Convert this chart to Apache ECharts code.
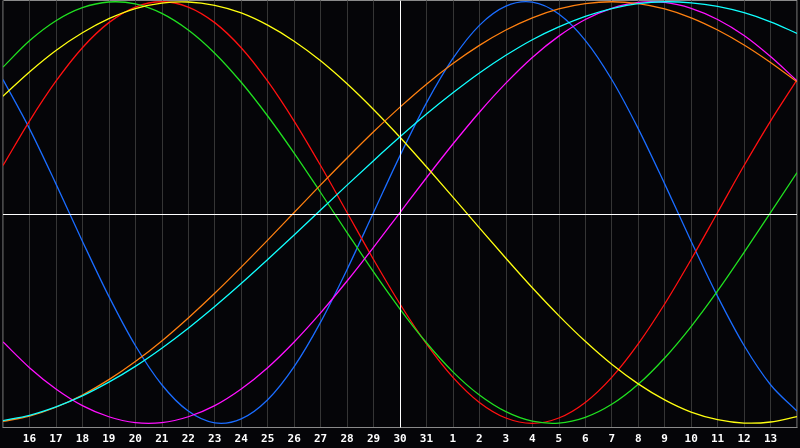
<!DOCTYPE html>
<html>
<head>
<meta charset="utf-8">
<script src="https://cdn.jsdelivr.net/npm/echarts@6/dist/echarts.min.js"></script>
<style>
html,body{margin:0;padding:0;background:#050508;}
#c{width:800px;height:448px;}
</style>
</head>
<body>
<div id="c"></div>
<script>
// Day labels (Oct 15 .. Nov 14)
const days = ['15','16','17','18','19','20','21','22','23','24','25','26','27','28','29','30','31',
  '1','2','3','4','5','6','7','8','9','10','11','12','13','14'];

// Curve values, one per day
const blueVals = [0.631,0.398,0.136,-0.136,-0.398,-0.631,-0.817,-0.942,-0.998,-0.979,-0.888,-0.731,-0.520,-0.270,0,0.270,0.520,0.731,0.888,0.979,0.998,0.942,0.817,0.631,0.398,0.136,-0.136,-0.398,-0.631,-0.817,-0.942];
const redVals = [0.223,0.434,0.623,0.782,0.901,0.975,1,0.975,0.901,0.782,0.623,0.434,0.223,0,-0.223,-0.434,-0.623,-0.782,-0.901,-0.975,-1,-0.975,-0.901,-0.782,-0.623,-0.434,-0.223,0,0.223,0.434,0.630];
const greenVals = [0.690,0.815,0.910,0.972,0.999,0.990,0.945,0.866,0.756,0.618,0.458,0.282,0.095,-0.095,-0.282,-0.458,-0.618,-0.756,-0.866,-0.945,-0.990,-0.999,-0.972,-0.910,-0.815,-0.690,-0.541,-0.372,-0.189,0,0.189];
const magentaVals = [-0.614,-0.736,-0.837,-0.916,-0.969,-0.997,-0.997,-0.969,-0.916,-0.837,-0.736,-0.614,-0.476,-0.325,-0.165,0,0.165,0.325,0.476,0.614,0.736,0.837,0.916,0.969,0.997,0.997,0.969,0.916,0.840,0.740,0.625];
const yellowVals = [0.552,0.667,0.769,0.853,0.920,0.968,0.994,0.999,0.983,0.947,0.889,0.813,0.720,0.611,0.489,0.357,0.217,0.073,-0.073,-0.217,-0.357,-0.489,-0.611,-0.720,-0.813,-0.889,-0.947,-0.983,-0.999,-0.994,-0.968];
const orangeVals = [-0.991,-0.966,-0.924,-0.866,-0.793,-0.707,-0.609,-0.5,-0.383,-0.259,-0.131,0,0.131,0.259,0.383,0.5,0.609,0.707,0.793,0.866,0.924,0.966,0.991,1,0.991,0.966,0.924,0.866,0.795,0.712,0.620];
const cyanVals = [-0.987,-0.962,-0.922,-0.870,-0.805,-0.730,-0.644,-0.549,-0.446,-0.337,-0.223,-0.107,0.012,0.130,0.246,0.359,0.467,0.568,0.662,0.746,0.820,0.881,0.931,0.968,0.991,1.000,0.995,0.978,0.948,0.905,0.850];
// Level of the white centre line
const centreLevel = -0.0094;
const centreDay = 15;

const seriesDefs = [
  {name:'blue', data: blueVals, color:'#1a6cff'},
  {name:'red', data: redVals, color:'#ff1010'},
  {name:'green', data: greenVals, color:'#20e020'},
  {name:'magenta', data: magentaVals, color:'#ff10ff'},
  {name:'yellow', data: yellowVals, color:'#ffff10'},
  {name:'orange', data: orangeVals, color:'#ff8010'},
  {name:'cyan', data: cyanVals, color:'#10ffff'}
];

// Smooth curve through the data points (Catmull-Rom as cubic Bezier), in pixel space
function splinePath(pts) {
  const n = pts.length;
  const f = v => v.toFixed(2);
  let d = 'M' + f(pts[0][0]) + ',' + f(pts[0][1]);
  for (let i = 0; i < n - 1; i++) {
    const p0 = i > 0 ? pts[i - 1] : [2 * pts[0][0] - pts[1][0], 2 * pts[0][1] - pts[1][1]];
    const p1 = pts[i], p2 = pts[i + 1];
    const p3 = i + 2 < n ? pts[i + 2] : [2 * pts[n - 1][0] - pts[n - 2][0], 2 * pts[n - 1][1] - pts[n - 2][1]];
    const c1x = p1[0] + (p2[0] - p0[0]) / 6, c1y = p1[1] + (p2[1] - p0[1]) / 6;
    const c2x = p2[0] - (p3[0] - p1[0]) / 6, c2y = p2[1] - (p3[1] - p1[1]) / 6;
    d += ' C' + f(c1x) + ',' + f(c1y) + ' ' + f(c2x) + ',' + f(c2y) + ' ' + f(p2[0]) + ',' + f(p2[1]);
  }
  return d;
}

const chart = echarts.init(document.getElementById('c'), null, {renderer:'canvas'});
const series = seriesDefs.map(s => ({
  name: s.name, type: 'custom', silent: true, z: 3, clip: true,
  data: s.data.map((v, i) => [i, v]),
  encode: {x: 0, y: 1},
  renderItem: function (params, api) {
    if (params.dataIndex !== 0) return null;
    const pts = s.data.map((v, i) => api.coord([i, v]));
    return {
      type: 'path',
      shape: {pathData: splinePath(pts)},
      style: {stroke: s.color, fill: 'none', lineWidth: 1.3},
      silent: true
    };
  }
}));
series.push({
  type: 'line', data: [], silent: true, z: 2,
  markLine: {
    silent: true, symbol: 'none', animation: false, label: {show: false},
    lineStyle: {color: '#ffffff', width: 1, type: 'solid'},
    data: [{xAxis: centreDay}, {yAxis: centreLevel}]
  }
});

chart.setOption({
  animation: false,
  backgroundColor: '#050508',
  grid: {left: 0.5, right: 0.5, top: 0.5, bottom: 20.5, show: true, borderColor: '#8a8a8a', borderWidth: 1, backgroundColor: '#050508'},
  xAxis: {
    type: 'category', data: days, boundaryGap: false,
    axisLine: {show: true, onZero: false, lineStyle: {color: '#8a8a8a', width: 1}},
    axisTick: {show: false},
    axisLabel: {
      interval: 0, margin: 6, color: '#ffffff', fontFamily: 'DejaVu Sans Mono', fontWeight: 'bold', fontSize: 11,
      formatter: (v, i) => (i === 0 || i === days.length - 1) ? '' : v
    },
    splitLine: {show: true, interval: 0, lineStyle: {color: '#353535', width: 1}}
  },
  yAxis: {
    type: 'value', min: -1.02, max: 1.006,
    axisLine: {show: false}, axisTick: {show: false}, axisLabel: {show: false},
    splitLine: {show: false}
  },
  series: series
});
</script>
</body>
</html>
